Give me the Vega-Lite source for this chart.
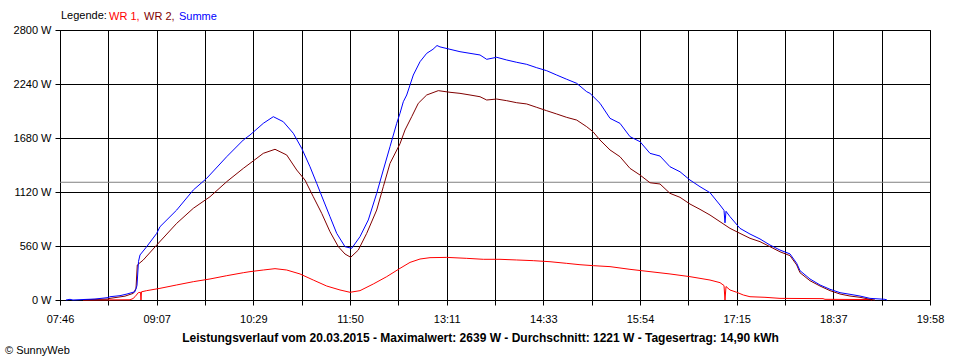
{
  "$schema": "https://vega.github.io/schema/vega-lite/v6.json",
  "width": 870,
  "height": 270,
  "autosize": "none",
  "padding": {"left": 60, "top": 30, "right": 30, "bottom": 60},
  "background": "white",
  "config": {
    "font": "Liberation Sans",
    "view": {"stroke": "black", "strokeWidth": 1},
    "axis": {
      "labelFont": "Liberation Sans", "labelFontSize": 11, "labelColor": "black",
      "titleFont": "Liberation Sans", "titleColor": "black",
      "domainColor": "black", "tickColor": "black", "gridColor": "black", "gridOpacity": 1, "gridWidth": 1, "tickSize": 5
    }
  },
  "title": {"text": "© SunnyWeb", "orient": "bottom", "anchor": "start", "frame": "group", "dx": -55, "offset": 2, "fontSize": 11, "fontWeight": "normal", "font": "Liberation Sans", "color": "black"},
  "layer": [
    {
      "data": {"values": [{"w": 1221}]},
      "mark": {"type": "rule", "color": "#808080", "strokeWidth": 1},
      "encoding": {
        "y": {"field": "w", "type": "quantitative", "scale": {"domain": [0, 2800], "nice": false},
          "axis": {"values": [0, 560, 1120, 1680, 2240, 2800], "labelExpr": "datum.value + ' W'", "title": null, "grid": true, "labelPadding": 4}}
      }
    },
    {
      "data": {
        "format": {"parse": {"t": "utc:'%H:%M:%S'"}},
        "values": [
          {"t":"08:05:21","s":"WR 1","w":0},{"t":"08:44:54","s":"WR 1","w":2},{"t":"08:47:25","s":"WR 1","w":15},{"t":"08:49:06","s":"WR 1","w":34},{"t":"08:51:53","s":"WR 1","w":76},{"t":"08:53:44","s":"WR 1","w":80},{"t":"08:54:09","s":"WR 1","w":0},{"t":"08:54:34","s":"WR 1","w":85},{"t":"08:58:57","s":"WR 1","w":97},{"t":"09:10:08","s":"WR 1","w":121},{"t":"09:24:11","s":"WR 1","w":156},{"t":"09:38:10","s":"WR 1","w":190},{"t":"09:52:13","s":"WR 1","w":218},{"t":"10:06:16","s":"WR 1","w":252},{"t":"10:20:14","s":"WR 1","w":283},{"t":"10:25:52","s":"WR 1","w":294},{"t":"10:37:03","s":"WR 1","w":311},{"t":"10:46:54","s":"WR 1","w":325},{"t":"10:56:44","s":"WR 1","w":311},{"t":"11:07:56","s":"WR 1","w":270},{"t":"11:19:07","s":"WR 1","w":207},{"t":"11:30:23","s":"WR 1","w":145},{"t":"11:41:35","s":"WR 1","w":104},{"t":"11:50:00","s":"WR 1","w":80},{"t":"11:58:25","s":"WR 1","w":97},{"t":"12:09:36","s":"WR 1","w":166},{"t":"12:20:53","s":"WR 1","w":242},{"t":"12:32:04","s":"WR 1","w":328},{"t":"12:40:29","s":"WR 1","w":390},{"t":"12:48:54","s":"WR 1","w":425},{"t":"12:57:19","s":"WR 1","w":439},{"t":"13:11:22","s":"WR 1","w":442},{"t":"13:28:11","s":"WR 1","w":432},{"t":"13:42:10","s":"WR 1","w":422},{"t":"13:56:13","s":"WR 1","w":422},{"t":"14:10:16","s":"WR 1","w":415},{"t":"14:24:14","s":"WR 1","w":408},{"t":"14:38:17","s":"WR 1","w":397},{"t":"14:52:20","s":"WR 1","w":380},{"t":"15:03:31","s":"WR 1","w":366},{"t":"15:14:43","s":"WR 1","w":356},{"t":"15:28:46","s":"WR 1","w":346},{"t":"15:45:35","s":"WR 1","w":318},{"t":"16:02:25","s":"WR 1","w":294},{"t":"16:19:14","s":"WR 1","w":270},{"t":"16:36:04","s":"WR 1","w":242},{"t":"16:52:54","s":"WR 1","w":207},{"t":"17:01:19","s":"WR 1","w":180},{"t":"17:04:41","s":"WR 1","w":150},{"t":"17:05:31","s":"WR 1","w":0},{"t":"17:06:22","s":"WR 1","w":140},{"t":"17:09:44","s":"WR 1","w":104},{"t":"17:15:22","s":"WR 1","w":80},{"t":"17:20:55","s":"WR 1","w":52},{"t":"17:26:33","s":"WR 1","w":34},{"t":"17:39:10","s":"WR 1","w":28},{"t":"17:51:47","s":"WR 1","w":17},{"t":"18:27:59","s":"WR 1","w":14},{"t":"18:29:40","s":"WR 1","w":7},{"t":"19:07:31","s":"WR 1","w":5},{"t":"19:09:12","s":"WR 1","w":0},
          {"t":"08:05:21","s":"WR 2","w":3},{"t":"08:26:23","s":"WR 2","w":10},{"t":"08:28:04","s":"WR 2","w":17},{"t":"08:40:41","s":"WR 2","w":40},{"t":"08:47:40","s":"WR 2","w":69},{"t":"08:49:56","s":"WR 2","w":120},{"t":"08:51:02","s":"WR 2","w":363},{"t":"08:56:05","s":"WR 2","w":415},{"t":"09:07:22","s":"WR 2","w":570},{"t":"09:24:11","s":"WR 2","w":795},{"t":"09:38:10","s":"WR 2","w":951},{"t":"09:52:13","s":"WR 2","w":1071},{"t":"10:06:16","s":"WR 2","w":1227},{"t":"10:20:14","s":"WR 2","w":1365},{"t":"10:25:52","s":"WR 2","w":1417},{"t":"10:37:03","s":"WR 2","w":1521},{"t":"10:46:54","s":"WR 2","w":1563},{"t":"10:56:44","s":"WR 2","w":1504},{"t":"11:05:10","s":"WR 2","w":1348},{"t":"11:12:08","s":"WR 2","w":1244},{"t":"11:19:07","s":"WR 2","w":1071},{"t":"11:26:11","s":"WR 2","w":899},{"t":"11:33:10","s":"WR 2","w":708},{"t":"11:40:10","s":"WR 2","w":553},{"t":"11:45:47","s":"WR 2","w":477},{"t":"11:50:35","s":"WR 2","w":443},{"t":"11:56:59","s":"WR 2","w":518},{"t":"12:04:03","s":"WR 2","w":691},{"t":"12:12:28","s":"WR 2","w":933},{"t":"12:18:01","s":"WR 2","w":1175},{"t":"12:23:40","s":"WR 2","w":1417},{"t":"12:32:04","s":"WR 2","w":1620},{"t":"12:36:17","s":"WR 2","w":1763},{"t":"12:41:55","s":"WR 2","w":1901},{"t":"12:47:28","s":"WR 2","w":2040},{"t":"12:54:32","s":"WR 2","w":2126},{"t":"13:04:17","s":"WR 2","w":2171},{"t":"13:14:08","s":"WR 2","w":2154},{"t":"13:22:33","s":"WR 2","w":2143},{"t":"13:30:58","s":"WR 2","w":2126},{"t":"13:39:23","s":"WR 2","w":2108},{"t":"13:45:01","s":"WR 2","w":2074},{"t":"13:53:26","s":"WR 2","w":2084},{"t":"14:01:51","s":"WR 2","w":2067},{"t":"14:10:16","s":"WR 2","w":2046},{"t":"14:18:41","s":"WR 2","w":2033},{"t":"14:27:05","s":"WR 2","w":1998},{"t":"14:35:30","s":"WR 2","w":1963},{"t":"14:43:55","s":"WR 2","w":1929},{"t":"14:52:20","s":"WR 2","w":1894},{"t":"15:00:45","s":"WR 2","w":1866},{"t":"15:09:10","s":"WR 2","w":1797},{"t":"15:14:28","s":"WR 2","w":1745},{"t":"15:20:21","s":"WR 2","w":1659},{"t":"15:28:46","s":"WR 2","w":1556},{"t":"15:37:10","s":"WR 2","w":1486},{"t":"15:45:35","s":"WR 2","w":1365},{"t":"15:54:00","s":"WR 2","w":1296},{"t":"16:02:25","s":"WR 2","w":1216},{"t":"16:10:50","s":"WR 2","w":1203},{"t":"16:19:14","s":"WR 2","w":1106},{"t":"16:27:40","s":"WR 2","w":1065},{"t":"16:36:04","s":"WR 2","w":995},{"t":"16:44:29","s":"WR 2","w":940},{"t":"16:52:54","s":"WR 2","w":881},{"t":"17:01:19","s":"WR 2","w":812},{"t":"17:09:44","s":"WR 2","w":743},{"t":"17:18:08","s":"WR 2","w":691},{"t":"17:26:33","s":"WR 2","w":640},{"t":"17:34:58","s":"WR 2","w":605},{"t":"17:43:23","s":"WR 2","w":553},{"t":"17:51:47","s":"WR 2","w":500},{"t":"18:00:13","s":"WR 2","w":460},{"t":"18:05:51","s":"WR 2","w":363},{"t":"18:08:37","s":"WR 2","w":283},{"t":"18:17:02","s":"WR 2","w":200},{"t":"18:25:27","s":"WR 2","w":145},{"t":"18:33:52","s":"WR 2","w":97},{"t":"18:42:17","s":"WR 2","w":62},{"t":"18:50:41","s":"WR 2","w":41},{"t":"18:59:06","s":"WR 2","w":28},{"t":"19:07:31","s":"WR 2","w":7},{"t":"19:11:43","s":"WR 2","w":0},
          {"t":"07:51:00","s":"Summe","w":0},{"t":"07:54:25","s":"Summe","w":7},{"t":"07:56:56","s":"Summe","w":0},{"t":"08:05:21","s":"Summe","w":5},{"t":"08:15:27","s":"Summe","w":10},{"t":"08:26:23","s":"Summe","w":25},{"t":"08:28:04","s":"Summe","w":34},{"t":"08:36:29","s":"Summe","w":45},{"t":"08:42:22","s":"Summe","w":62},{"t":"08:49:06","s":"Summe","w":86},{"t":"08:50:47","s":"Summe","w":150},{"t":"08:52:03","s":"Summe","w":400},{"t":"08:53:19","s":"Summe","w":467},{"t":"08:58:57","s":"Summe","w":553},{"t":"09:07:22","s":"Summe","w":691},{"t":"09:10:08","s":"Summe","w":760},{"t":"09:24:11","s":"Summe","w":933},{"t":"09:38:10","s":"Summe","w":1141},{"t":"09:49:26","s":"Summe","w":1262},{"t":"10:06:16","s":"Summe","w":1486},{"t":"10:20:14","s":"Summe","w":1659},{"t":"10:25:52","s":"Summe","w":1711},{"t":"10:37:03","s":"Summe","w":1832},{"t":"10:45:28","s":"Summe","w":1901},{"t":"10:53:53","s":"Summe","w":1849},{"t":"11:02:17","s":"Summe","w":1729},{"t":"11:09:22","s":"Summe","w":1573},{"t":"11:16:21","s":"Summe","w":1382},{"t":"11:21:59","s":"Summe","w":1210},{"t":"11:27:32","s":"Summe","w":1037},{"t":"11:33:10","s":"Summe","w":864},{"t":"11:38:49","s":"Summe","w":691},{"t":"11:45:47","s":"Summe","w":553},{"t":"11:51:26","s":"Summe","w":536},{"t":"11:58:25","s":"Summe","w":657},{"t":"12:05:24","s":"Summe","w":830},{"t":"12:12:28","s":"Summe","w":1106},{"t":"12:18:01","s":"Summe","w":1348},{"t":"12:23:40","s":"Summe","w":1590},{"t":"12:29:18","s":"Summe","w":1832},{"t":"12:32:04","s":"Summe","w":1936},{"t":"12:34:51","s":"Summe","w":2056},{"t":"12:37:43","s":"Summe","w":2126},{"t":"12:43:16","s":"Summe","w":2333},{"t":"12:48:54","s":"Summe","w":2471},{"t":"12:54:32","s":"Summe","w":2558},{"t":"12:59:50","s":"Summe","w":2600},{"t":"13:03:12","s":"Summe","w":2639},{"t":"13:05:43","s":"Summe","w":2625},{"t":"13:14:08","s":"Summe","w":2600},{"t":"13:22:33","s":"Summe","w":2575},{"t":"13:30:58","s":"Summe","w":2558},{"t":"13:39:23","s":"Summe","w":2541},{"t":"13:45:01","s":"Summe","w":2496},{"t":"13:53:26","s":"Summe","w":2517},{"t":"14:01:51","s":"Summe","w":2489},{"t":"14:10:16","s":"Summe","w":2465},{"t":"14:18:41","s":"Summe","w":2444},{"t":"14:27:05","s":"Summe","w":2409},{"t":"14:35:30","s":"Summe","w":2378},{"t":"14:43:55","s":"Summe","w":2333},{"t":"14:52:20","s":"Summe","w":2289},{"t":"15:00:45","s":"Summe","w":2247},{"t":"15:09:10","s":"Summe","w":2160},{"t":"15:11:56","s":"Summe","w":2143},{"t":"15:20:21","s":"Summe","w":2040},{"t":"15:28:46","s":"Summe","w":1884},{"t":"15:37:10","s":"Summe","w":1832},{"t":"15:45:35","s":"Summe","w":1694},{"t":"15:54:00","s":"Summe","w":1642},{"t":"16:02:25","s":"Summe","w":1521},{"t":"16:10:50","s":"Summe","w":1493},{"t":"16:19:14","s":"Summe","w":1382},{"t":"16:27:40","s":"Summe","w":1330},{"t":"16:36:04","s":"Summe","w":1244},{"t":"16:44:29","s":"Summe","w":1175},{"t":"16:52:54","s":"Summe","w":1113},{"t":"17:01:19","s":"Summe","w":985},{"t":"17:04:41","s":"Summe","w":930},{"t":"17:05:31","s":"Summe","w":800},{"t":"17:06:22","s":"Summe","w":920},{"t":"17:09:44","s":"Summe","w":864},{"t":"17:18:08","s":"Summe","w":743},{"t":"17:26:33","s":"Summe","w":684},{"t":"17:34:58","s":"Summe","w":633},{"t":"17:43:23","s":"Summe","w":570},{"t":"17:51:47","s":"Summe","w":518},{"t":"18:00:13","s":"Summe","w":478},{"t":"18:05:51","s":"Summe","w":380},{"t":"18:08:37","s":"Summe","w":304},{"t":"18:17:02","s":"Summe","w":218},{"t":"18:25:27","s":"Summe","w":156},{"t":"18:33:52","s":"Summe","w":111},{"t":"18:42:17","s":"Summe","w":76},{"t":"18:50:41","s":"Summe","w":59},{"t":"18:59:06","s":"Summe","w":41},{"t":"19:07:31","s":"Summe","w":17},{"t":"19:20:08","s":"Summe","w":7},{"t":"19:21:49","s":"Summe","w":0}
        ]
      },
      "mark": {"type": "line", "strokeWidth": 1, "interpolate": "linear"},
      "encoding": {
        "x": {
          "field": "t", "type": "temporal",
          "scale": {"type": "utc", "domain": [{"year": 1900, "month": 1, "date": 1, "hours": 7, "minutes": 46, "utc": true}, {"year": 1900, "month": 1, "date": 1, "hours": 19, "minutes": 58, "utc": true}]},
          "axis": {
            "values": [
              {"year":1900,"month":1,"date":1,"hours":7,"minutes":46,"seconds":0,"utc":true},
              {"year":1900,"month":1,"date":1,"hours":8,"minutes":26,"seconds":40,"utc":true},
              {"year":1900,"month":1,"date":1,"hours":9,"minutes":7,"seconds":20,"utc":true},
              {"year":1900,"month":1,"date":1,"hours":9,"minutes":48,"seconds":0,"utc":true},
              {"year":1900,"month":1,"date":1,"hours":10,"minutes":28,"seconds":40,"utc":true},
              {"year":1900,"month":1,"date":1,"hours":11,"minutes":9,"seconds":20,"utc":true},
              {"year":1900,"month":1,"date":1,"hours":11,"minutes":50,"seconds":0,"utc":true},
              {"year":1900,"month":1,"date":1,"hours":12,"minutes":30,"seconds":40,"utc":true},
              {"year":1900,"month":1,"date":1,"hours":13,"minutes":11,"seconds":20,"utc":true},
              {"year":1900,"month":1,"date":1,"hours":13,"minutes":52,"seconds":0,"utc":true},
              {"year":1900,"month":1,"date":1,"hours":14,"minutes":32,"seconds":40,"utc":true},
              {"year":1900,"month":1,"date":1,"hours":15,"minutes":13,"seconds":20,"utc":true},
              {"year":1900,"month":1,"date":1,"hours":15,"minutes":54,"seconds":0,"utc":true},
              {"year":1900,"month":1,"date":1,"hours":16,"minutes":34,"seconds":40,"utc":true},
              {"year":1900,"month":1,"date":1,"hours":17,"minutes":15,"seconds":20,"utc":true},
              {"year":1900,"month":1,"date":1,"hours":17,"minutes":56,"seconds":0,"utc":true},
              {"year":1900,"month":1,"date":1,"hours":18,"minutes":36,"seconds":40,"utc":true},
              {"year":1900,"month":1,"date":1,"hours":19,"minutes":17,"seconds":20,"utc":true},
              {"year":1900,"month":1,"date":1,"hours":19,"minutes":58,"seconds":0,"utc":true}
            ],
            "labelExpr": "(round((datum.value - utc(1900,0,1,7,46,0)) / 2440000) % 2 == 0) ? utcFormat(datum.value + 30000, '%H:%M') : ''",
            "grid": true, "labelFlush": false, "labelOverlap": false, "labelBound": false, "labelPadding": 8,
            "title": "Leistungsverlauf vom 20.03.2015 - Maximalwert: 2639 W - Durchschnitt: 1221 W - Tagesertrag: 14,90 kWh",
            "titleFontWeight": "bold", "titleFontSize": 12, "titleX": 420, "titleY": 37, "titleBaseline": "middle", "titleAlign": "center", "titleAnchor": null
          }
        },
        "y": {"field": "w", "type": "quantitative", "scale": {"domain": [0, 2800], "nice": false},
          "axis": {"values": [0, 560, 1120, 1680, 2240, 2800], "labelExpr": "datum.value + ' W'", "title": null, "grid": true, "labelPadding": 4}},
        "color": {
          "field": "s", "type": "nominal",
          "scale": {"domain": ["WR 1", "WR 2", "Summe"], "range": ["#ff0000", "#800000", "#0000ff"]},
          "legend": {
            "orient": "none", "legendX": 1, "legendY": -19, "direction": "horizontal",
            "title": "Legende:", "titleOrient": "left", "titleFontWeight": "normal", "titleFontSize": 11, "titleColor": "black", "titlePadding": 0, "titleBaseline": "middle",
            "labelFontSize": 11, "labelExpr": "datum.value == 'Summe' ? datum.label : datum.label + ','",
            "labelColor": {"expr": "datum.value == 'Summe' ? '#0000ff' : (datum.value == 'WR 2' ? '#800000' : '#ff0000')"},
            "symbolOpacity": 0, "symbolSize": 1, "symbolStrokeWidth": 0, "labelOffset": -9, "columnPadding": 2, "padding": 0
          }
        }
      }
    }
  ]
}
